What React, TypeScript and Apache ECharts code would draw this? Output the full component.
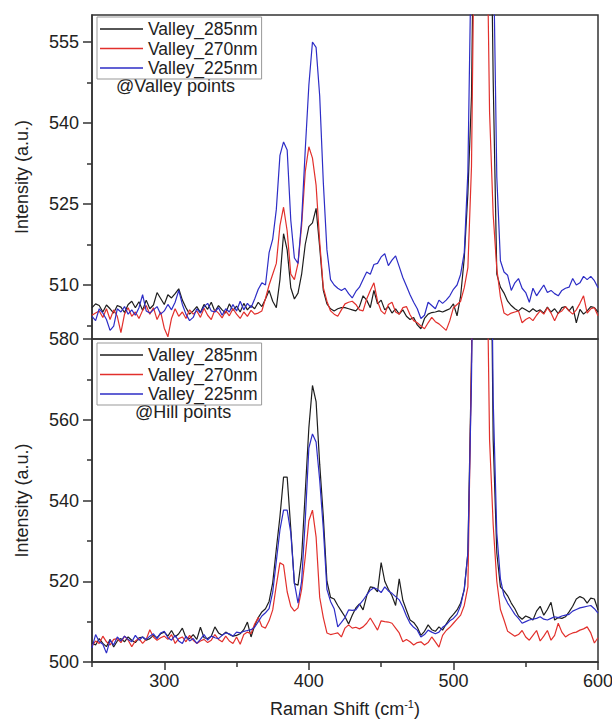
import React, { useEffect, useRef } from 'react';
import * as echarts from 'echarts';

// Raman shift sampling (cm^-1)
const SHIFT = [
  250, 252.5, 255, 257.5, 260, 262.5, 265, 267.5, 270, 272.5,
  275, 277.5, 280, 282.5, 285, 287.5, 290, 292.5, 295, 297.5,
  300, 302.5, 305, 307.5, 310, 312.5, 315, 317.5, 320, 322.5,
  325, 327.5, 330, 332.5, 335, 337.5, 340, 342.5, 345, 347.5,
  350, 352.5, 355, 357.5, 360, 362.5, 365, 367.5, 370, 372.5,
  375, 377.5, 380, 382.5, 385, 387.5, 390, 392.5, 395, 397.5,
  400, 402.5, 405, 407.5, 410, 412.5, 415, 417.5, 420, 422.5,
  425, 427.5, 430, 432.5, 435, 437.5, 440, 442.5, 445, 447.5,
  450, 452.5, 455, 457.5, 460, 462.5, 465, 467.5, 470, 472.5,
  475, 477.5, 480, 482.5, 485, 487.5, 490, 492.5, 495, 497.5,
  500, 502.5, 505, 507.5, 510, 512.5, 515, 517.5, 520, 522.5,
  525, 527.5, 530, 532.5, 535, 537.5, 540, 542.5, 545, 547.5,
  550, 552.5, 555, 557.5, 560, 562.5, 565, 567.5, 570, 572.5,
  575, 577.5, 580, 582.5, 585, 587.5, 590, 592.5, 595, 597.5,
  600,
];

// @Valley points
const VALLEY_285 = [
  505.8, 506.5, 506.2, 505.0, 506.3, 505.6, 504.8, 506.2, 505.9, 504.9,
  506.4, 507.0, 505.8, 506.9, 505.3, 507.2, 505.6, 506.3, 508.6, 507.5,
  506.4, 508.2, 507.6, 508.4, 509.3, 507.2, 505.8, 504.6, 505.2, 506.0,
  504.9, 506.4, 505.5, 506.8, 505.1, 506.2, 505.4, 504.8, 506.5, 505.3,
  506.1, 505.0, 506.6, 505.4, 506.2, 505.6, 506.8, 506.0, 507.4, 509.0,
  507.0, 505.8, 511.0, 519.5, 516.5, 509.5, 507.4, 508.5, 512.0, 517.5,
  520.8, 521.5, 524.2, 517.0, 509.0, 506.5, 505.6, 505.2, 505.6, 505.8,
  505.8, 505.6, 505.4, 505.2, 506.0, 508.0, 507.2, 505.8, 509.0, 506.5,
  507.2, 505.4, 506.0, 504.8, 505.6, 504.6, 505.4, 504.2, 503.6, 504.0,
  502.6, 501.9, 503.8, 504.6, 504.9, 505.0, 505.2, 505.0, 505.3, 505.6,
  506.5, 504.3, 508.0, 515.0, 527.0, 545.0, 600, 700, 760, 700,
  600, 548, 512.0, 509.6, 508.5, 507.0, 506.2, 505.6, 505.2, 505.8,
  505.4, 505.0, 505.6, 505.1, 505.4, 504.8, 505.9, 505.0, 505.6, 504.7,
  505.8, 506.0, 505.2, 506.1, 503.0, 505.5, 504.6, 505.2, 506.0, 505.8,
  505.0,
];
const VALLEY_270 = [
  504.4, 504.8, 505.2, 504.0, 505.6, 503.6, 505.4, 504.2, 501.2, 504.6,
  505.8, 504.2, 505.0, 503.8, 505.3, 506.2, 504.6, 505.8, 503.6, 505.0,
  502.0, 500.4, 503.8, 505.6, 504.2, 505.0, 503.8, 505.4, 504.6, 505.2,
  504.0, 505.7, 504.4, 503.6, 505.4, 504.8, 503.9, 505.2, 504.3, 505.6,
  504.6, 503.8, 505.0, 504.2, 505.3, 504.6, 504.8, 505.2, 507.5, 510.0,
  512.0, 514.0, 521.0, 524.4, 520.0, 512.0, 511.0, 514.0, 521.0, 531.0,
  535.6, 533.5, 528.5, 518.0, 509.5, 507.0, 505.2, 504.6, 504.2, 505.4,
  506.5, 506.8, 507.0, 506.4, 505.4, 505.2, 507.4, 509.0, 510.4, 507.0,
  505.2, 504.6, 506.4, 506.8, 505.0, 504.6, 505.8, 506.0, 504.5, 503.4,
  503.0, 502.4, 501.9, 503.0, 504.0, 503.2, 502.8, 502.2, 501.6, 503.4,
  505.8, 506.4, 507.0, 509.5, 513.2, 532.0, 590, 680, 700, 590,
  542, 523.0, 513.0, 507.8, 504.8, 504.4, 504.8, 505.0, 505.2, 503.0,
  503.6, 504.0, 503.4, 504.4, 505.2, 504.6, 505.8, 504.8, 503.4, 504.8,
  505.2, 506.0, 505.2, 504.6, 505.4, 506.6, 508.0, 504.8, 505.6, 505.8,
  504.3,
];
const VALLEY_225 = [
  504.2, 503.4, 505.6, 504.8, 503.6, 501.6, 502.4, 505.6, 505.0, 506.0,
  504.6, 505.4, 504.4, 505.8, 508.2, 505.2, 504.8, 505.4, 506.0, 504.6,
  505.2, 506.4, 505.4, 506.8, 509.0, 506.4, 504.6, 503.4, 504.0, 505.6,
  504.8, 506.0, 506.6, 505.2, 505.0, 505.8, 504.4, 505.6, 505.0, 506.4,
  505.2, 507.0, 505.4, 506.6, 505.8, 507.4, 509.2, 510.4, 510.0, 516.0,
  518.5, 524.0, 534.0, 536.5, 535.0, 522.0, 515.0, 514.0, 522.0, 535.0,
  547.0, 555.0, 554.0, 545.0, 529.0, 516.5, 511.0, 510.0, 509.4, 509.0,
  509.4, 508.4, 507.6, 508.8, 509.6, 511.0, 512.4, 512.0, 513.8, 514.0,
  515.2, 515.8, 513.6, 514.6, 515.4, 513.4, 511.4, 509.8, 508.2, 506.8,
  505.6, 503.8, 504.4, 506.8, 506.2, 505.6, 507.2, 506.6, 507.2, 508.0,
  509.2, 510.0, 512.0, 516.0, 531.0, 575, 650, 720, 760, 720,
  650, 575, 530.0, 514.5, 512.4, 511.8, 509.0, 510.4, 511.2, 509.4,
  508.6, 506.8, 509.4, 508.0, 509.0, 510.0, 508.6, 509.0, 508.4, 508.0,
  509.0, 509.4, 509.6, 511.2, 510.0, 510.4, 511.6, 511.0, 511.6, 510.8,
  509.5,
];

// @Hill points
const HILL_285 = [
  504.7, 504.2, 505.8, 504.6, 503.8, 505.6, 503.7, 505.2, 505.8, 505.0,
  506.2, 505.4, 504.8, 506.0, 506.2, 505.4, 505.8, 506.6, 506.0, 507.0,
  507.4, 506.4, 507.8, 506.2, 507.0, 508.4, 506.0, 505.8, 506.8, 505.6,
  508.6, 506.0, 505.8, 506.4, 508.7, 507.2, 506.6, 507.4, 506.8, 506.4,
  506.6, 507.0, 508.0, 509.9, 506.2, 509.0, 511.0, 512.4, 513.2, 515.0,
  519.6, 528.0, 536.0, 545.8, 545.8, 533.0, 519.4, 519.0, 526.0, 542.0,
  558.0, 568.5, 564.5, 549.0, 536.0, 520.0, 516.0, 515.6, 514.0, 512.6,
  511.2, 509.4, 511.6, 513.4, 514.4, 512.9, 516.4, 518.6, 518.4, 517.4,
  524.6, 520.0, 518.0, 516.4, 514.0, 520.6, 515.3, 512.8, 510.4, 509.8,
  508.6, 506.6, 507.6, 509.2, 508.0, 507.6, 508.7, 507.9, 509.4, 510.8,
  511.8, 512.9, 514.6, 518.0, 527.0, 575, 650, 720, 760, 720,
  640, 555, 527.0, 518.6, 517.6, 516.4, 514.6, 513.2, 511.4, 510.6,
  511.4, 511.0, 510.4, 512.6, 513.8, 511.6, 513.0, 514.8, 510.4, 511.0,
  510.8, 511.2, 512.4, 513.8, 515.6, 516.2, 515.8, 514.6, 515.8, 515.6,
  512.9,
];
const HILL_270 = [
  504.0, 505.2, 504.6, 506.4, 505.0, 504.2, 505.6, 505.8, 504.8, 506.4,
  505.4, 503.8, 505.2, 505.8, 504.6, 505.6, 508.0, 506.2, 505.4, 506.0,
  506.4, 505.6, 506.8, 504.6, 505.8, 506.2, 505.0, 506.6, 505.4, 504.6,
  505.2, 505.6, 504.8, 505.4, 506.8, 505.6, 505.0, 506.4, 505.2, 504.6,
  506.2, 504.4, 506.8, 507.4, 507.0, 509.4, 511.0, 508.8, 508.4, 510.2,
  512.9, 519.0, 524.6, 524.0, 517.4, 513.8, 512.6, 513.4, 518.0, 526.0,
  535.0, 537.6, 531.0, 516.0, 511.0, 507.2, 506.8, 507.0, 507.2, 506.2,
  508.4, 509.2, 508.4, 508.6, 508.2, 508.7, 509.6, 510.9, 509.4, 507.9,
  510.2, 510.0, 509.9, 509.6, 508.4, 507.2, 505.0, 505.6, 505.0, 504.2,
  504.8, 505.0, 504.2, 504.8, 506.2, 505.0, 503.7, 506.6, 507.8, 508.6,
  509.6, 510.6, 511.6, 514.0, 518.6, 575, 660, 720, 700, 620,
  555, 534.0, 520.0, 513.0, 510.4, 507.6, 507.0, 506.4, 506.8, 507.8,
  506.2, 505.4, 506.6, 507.8, 505.2, 506.4, 507.8, 505.4, 506.6, 509.6,
  507.4, 506.2, 506.8, 507.2, 507.4, 507.9, 508.2, 508.7, 507.2, 504.7,
  506.0,
];
const HILL_225 = [
  503.5, 506.8, 505.0, 504.4, 502.2, 505.4, 504.2, 506.2, 505.2, 506.4,
  505.6, 505.0, 506.6, 505.4, 506.2, 505.6, 506.4, 507.0, 505.8, 507.2,
  507.6, 506.0, 505.4, 506.6, 505.2, 504.6, 506.4, 505.2, 505.8, 504.6,
  505.6, 506.8, 505.4, 506.4, 506.0, 505.8, 506.6, 507.2, 507.0, 506.4,
  507.4, 507.2, 507.6, 507.8, 508.0, 508.6, 510.0, 511.4, 512.2, 513.2,
  517.3, 525.0, 532.7, 537.6, 537.6, 532.0, 519.6, 514.6, 520.0, 535.0,
  553.0, 556.5, 554.5, 545.0, 533.0, 518.0, 515.0, 513.2, 508.7, 509.8,
  511.0, 512.9, 512.8, 512.9, 514.2, 515.3, 516.6, 517.8, 518.4, 518.0,
  517.2, 518.6, 517.6, 517.0, 516.2, 515.4, 513.6, 511.4, 509.6, 508.6,
  507.9, 506.2, 506.8, 507.9, 507.4, 507.0, 507.4, 508.6, 509.2, 510.2,
  510.8, 511.8, 514.0, 518.0, 527.0, 570, 650, 720, 760, 720,
  650, 565, 532.0, 520.6, 516.4, 514.6, 513.2, 511.8, 510.8, 509.6,
  510.0, 510.4, 510.6, 510.8, 511.2, 510.6, 510.4, 510.8, 511.2, 511.0,
  511.4, 511.6, 511.8, 512.6, 513.0, 513.4, 513.6, 513.8, 514.0, 513.2,
  512.1,
];

const SERIES_NAMES = ['Valley_285nm', 'Valley_270nm', 'Valley_225nm'];
const COLORS = ['#1e1e1e', '#e2302c', '#2d2dc6'];
const TOP_LABELS = [510, 525, 540, 555];
const TOP_MINOR = [502.5, 517.5, 532.5, 547.5];
const BOTTOM_LABELS = [500, 520, 540, 560, 580];
const BOTTOM_MINOR = [510, 530, 550, 570];
const X_LABELS = [300, 400, 500, 600];
const X_MINOR = [250, 350, 450, 550];

const FONT = "'Liberation Sans', Arial, sans-serif";
const AXIS_COLOR = '#333';

export default function App() {
  const ref = useRef<HTMLDivElement>(null);

  useEffect(() => {
    if (!ref.current) return;
    const chart = echarts.init(ref.current, null, { renderer: 'svg' });

    const lineStyle = { color: AXIS_COLOR, width: 1.5 };
    const toPairs = (arr: number[]) => SHIFT.map((x, i) => [x, arr[i]]);
    const mkSeries = (name: string, color: string, data: number[], xi: number, yi: number) => ({
      type: 'line',
      name,
      data: toPairs(data),
      xAxisIndex: xi,
      yAxisIndex: yi,
      symbol: 'none',
      clip: true,
      lineStyle: { color, width: 1.2 },
      itemStyle: { color },
      z: 2,
    });

    const legendBase = {
      data: SERIES_NAMES.map((n) => ({ name: n, icon: 'rect' })),
      orient: 'vertical',
      left: 97,
      itemWidth: 43,
      itemHeight: 1.3,
      itemGap: 1.5,
      padding: [3, 4, 2, 3],
      borderColor: '#999',
      borderWidth: 1,
      selectedMode: false,
      itemStyle: { borderWidth: 0 },
      textStyle: { fontSize: 17.5, fontFamily: FONT, color: '#222', lineHeight: 17 },
    };

    const yName = {
      name: 'Intensity (a.u.)',
      nameLocation: 'middle',
      nameGap: 61,
      nameTextStyle: { fontSize: 18, fontFamily: FONT, color: '#222' },
    };

    const option: any = {
      animation: false,
      backgroundColor: '#fff',
      grid: [
        { left: 92, right: 14, top: 15, height: 324, outerBoundsMode: 'none', containLabel: false, show: true, borderColor: AXIS_COLOR, borderWidth: 1.5, backgroundColor: 'transparent' },
        { left: 92, right: 14, top: 339, height: 323, outerBoundsMode: 'none', containLabel: false, show: true, borderColor: AXIS_COLOR, borderWidth: 1.5, backgroundColor: 'transparent' },
      ],
      xAxis: [
        {
          gridIndex: 0, type: 'value', min: 250, max: 600, position: 'bottom',
          axisLine: { show: false }, axisTick: { show: false }, axisLabel: { show: false }, splitLine: { show: false },
        },
        {
          gridIndex: 1, type: 'value', min: 250, max: 600, position: 'bottom',
          axisLine: { show: true, lineStyle },
          axisTick: { show: true, customValues: X_LABELS, length: 8, lineStyle },
          axisLabel: { customValues: X_LABELS, fontSize: 18, fontFamily: FONT, color: '#222', margin: 10 },
          splitLine: { show: false },
          name: 'Raman Shift (cm{sup|-1})',
          nameLocation: 'middle',
          nameGap: 36,
          nameTextStyle: {
            fontSize: 18, fontFamily: FONT, color: '#222', lineHeight: 21,
            rich: { sup: { fontSize: 11, fontFamily: FONT, color: '#222', lineHeight: 11, verticalAlign: 'top' } },
          },
        },
        {
          gridIndex: 1, type: 'value', min: 250, max: 600, position: 'bottom',
          axisLine: { show: false },
          axisTick: { show: true, customValues: X_MINOR, length: 5, lineStyle },
          axisLabel: { show: false }, splitLine: { show: false },
        },
      ],
      yAxis: [
        {
          gridIndex: 0, type: 'value', min: 500, max: 560, position: 'left',
          axisLine: { show: true, lineStyle },
          axisTick: { show: true, customValues: TOP_LABELS, length: 9, lineStyle },
          axisLabel: { customValues: TOP_LABELS, fontSize: 18, fontFamily: FONT, color: '#222', margin: 13 },
          splitLine: { show: false },
          ...yName,
        },
        {
          gridIndex: 0, type: 'value', min: 500, max: 560, position: 'left',
          axisLine: { show: false },
          axisTick: { show: true, customValues: TOP_MINOR, length: 5, lineStyle },
          axisLabel: { show: false }, splitLine: { show: false },
        },
        {
          gridIndex: 1, type: 'value', min: 500, max: 580, position: 'left',
          axisLine: { show: true, lineStyle },
          axisTick: { show: true, customValues: BOTTOM_LABELS, length: 9, lineStyle },
          axisLabel: { customValues: BOTTOM_LABELS, fontSize: 18, fontFamily: FONT, color: '#222', margin: 13, showMinLabel: true, showMaxLabel: true },
          splitLine: { show: false },
          ...yName,
        },
        {
          gridIndex: 1, type: 'value', min: 500, max: 580, position: 'left',
          axisLine: { show: false },
          axisTick: { show: true, customValues: BOTTOM_MINOR, length: 5, lineStyle },
          axisLabel: { show: false }, splitLine: { show: false },
        },
      ],
      legend: [
        { ...legendBase, top: 17 },
        { ...legendBase, top: 343 },
      ],
      graphic: [
        { type: 'text', left: 116, top: 77, style: { text: '@Valley points', fontSize: 18, fontFamily: FONT, fill: '#222' } },
        { type: 'text', left: 135, top: 403, style: { text: '@Hill points', fontSize: 18, fontFamily: FONT, fill: '#222' } },
      ],
      series: [
        mkSeries(SERIES_NAMES[0], COLORS[0], VALLEY_285, 0, 0),
        mkSeries(SERIES_NAMES[1], COLORS[1], VALLEY_270, 0, 0),
        mkSeries(SERIES_NAMES[2], COLORS[2], VALLEY_225, 0, 0),
        mkSeries(SERIES_NAMES[0], COLORS[0], HILL_285, 1, 2),
        mkSeries(SERIES_NAMES[1], COLORS[1], HILL_270, 1, 2),
        mkSeries(SERIES_NAMES[2], COLORS[2], HILL_225, 1, 2),
      ],
    };

    chart.setOption(option);
    return () => chart.dispose();
  }, []);

  return (
    <div
      ref={ref}
      style={{ position: 'fixed', left: 0, top: 0, width: 612, height: 719, background: '#fff' }}
    />
  );
}
